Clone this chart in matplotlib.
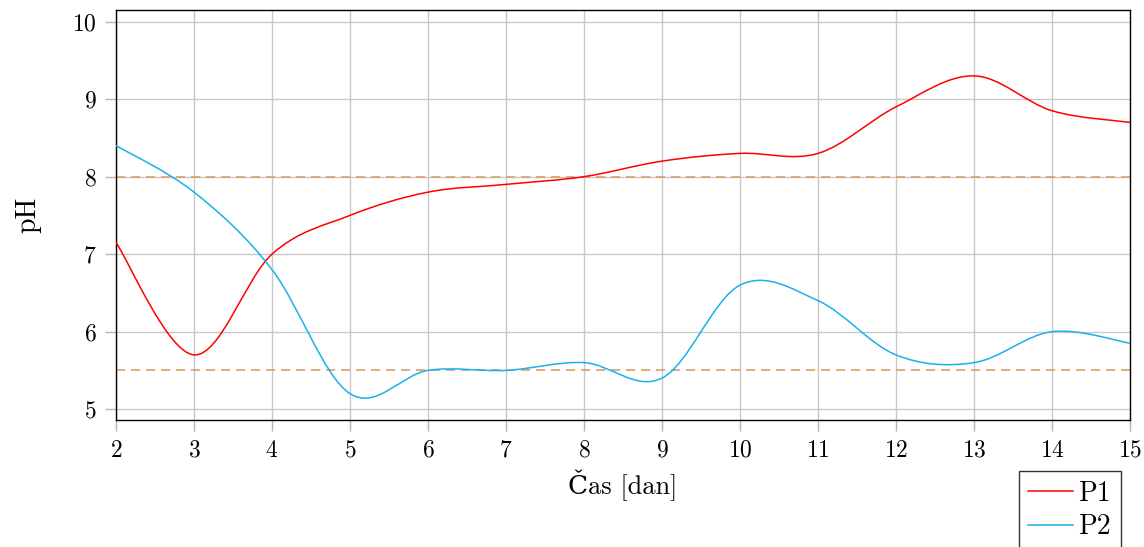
import numpy as np
import matplotlib
matplotlib.use("Agg")
from matplotlib import pyplot as plt
from matplotlib.path import Path
from matplotlib.patches import PathPatch
from matplotlib.lines import Line2D

plt.rcParams['font.family'] = ['cmr10', 'DejaVu Serif']
plt.rcParams['mathtext.fontset'] = 'cm'
plt.rcParams['axes.formatter.use_mathtext'] = True

# data
days = [2, 3, 4, 5, 6, 7, 8, 9, 10, 11, 12, 13, 14, 15]
p1 = [7.15, 5.7, 7.0, 7.5, 7.8, 7.9, 8.0, 8.2, 8.3, 8.3, 8.9, 9.3, 8.85, 8.7]
p2 = [8.4, 7.8, 6.8, 5.2, 5.5, 5.5, 5.6, 5.4, 6.6, 6.4, 5.7, 5.6, 6.0, 5.85]
limits = [8.0, 5.5]


def smooth_path(x, y, t=0.17):
    # pgfplots-like smooth: cubic bezier through the points
    x = np.asarray(x, float)
    y = np.asarray(y, float)
    n = len(x)
    verts = [(x[0], y[0])]
    codes = [Path.MOVETO]
    for i in range(n - 1):
        i0 = max(i - 1, 0)
        i3 = min(i + 2, n - 1)
        c1 = (x[i] + t * (x[i + 1] - x[i0]), y[i] + t * (y[i + 1] - y[i0]))
        c2 = (x[i + 1] - t * (x[i3] - x[i]), y[i + 1] - t * (y[i3] - y[i]))
        verts += [c1, c2, (x[i + 1], y[i + 1])]
        codes += [Path.CURVE4] * 3
    return Path(verts, codes)


fig = plt.figure(figsize=(11.44, 5.47), dpi=100)
ax = fig.add_axes([0.1014, 0.2322, 0.8864, 0.7495])

red = '#FF0000'
cyan = '#19B0EC'
for yy in limits:
    ax.axhline(yy, color='#D9A06A', lw=1.2, ls=(0, (5.5, 3.5)), zorder=2)

ax.add_patch(PathPatch(smooth_path(days, p1), fill=False, edgecolor=red, lw=1.1, zorder=3))
ax.add_patch(PathPatch(smooth_path(days, p2), fill=False, edgecolor=cyan, lw=1.1, zorder=3))

ax.set_xlim(2, 15)
ax.set_ylim(4.86, 10.15)
ax.set_xticks(range(2, 16))
ax.set_yticks([5, 6, 7, 8, 9, 10])
ax.grid(True, color='#C8C8C8', lw=1)
ax.set_axisbelow(True)
ax.tick_params(direction='out', length=8, width=1, color='#B4B4B4', labelsize=17, pad=6)
for s in ax.spines.values():
    s.set_color('black')
    s.set_linewidth(1)

ax.set_xlabel('Čas [dan]', fontsize=19, labelpad=6)
ax.set_ylabel('pH', fontsize=20, labelpad=22)

handles = [Line2D([], [], color=red, lw=1.1), Line2D([], [], color=cyan, lw=1.1)]
leg = ax.legend(handles, ['P1', 'P2'], loc='upper right', bbox_to_anchor=(0.991, -0.1244),
                borderaxespad=0, fontsize=20, frameon=True, fancybox=False, edgecolor='black',
                handlelength=1.6, handletextpad=0.2, borderpad=0.35, labelspacing=0.25)
leg.get_frame().set_linewidth(1)

fig.savefig('out.png', dpi=100)
